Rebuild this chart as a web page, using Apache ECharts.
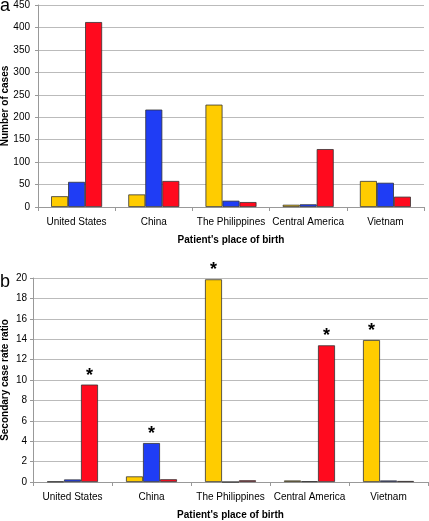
<!DOCTYPE html>
<html>
<head>
<meta charset="utf-8">
<script src="https://cdn.jsdelivr.net/npm/echarts@6/dist/echarts.min.js"></script>
<style>
html,body{margin:0;padding:0;background:#fff;}
#c{width:429px;height:521px;}
</style>
</head>
<body>
<div id="c"></div>
<script>
var categories = ['United States', 'China', 'The Philippines', 'Central America', 'Vietnam'];
// Panel a: number of cases
var casesYellow = [24, 28, 228, 5, 58];
var casesBlue = [56, 217, 14, 6, 54];
var casesRed = [412, 58, 11, 129, 23];
// Panel b: secondary case rate ratio
var ratioYellow = [0.05, 0.55, 19.87, 0.15, 13.92];
var ratioBlue = [0.25, 3.82, 0, 0.08, 0.15];
var ratioRed = [9.55, 0.27, 0.17, 13.4, 0.1];
// which bars carry an asterisk in panel b (series index per category)
var starSeries = [2, 1, 0, 2, 0];
var casesTicks = [0, 450, 50];
var ratioTicks = [0, 20, 2];

var font = 'Liberation Sans, Arial, sans-serif';
var colors = ['#FFCC00', '#1F3DF5', '#FF0A1E'];

function starred(arr, sIdx) {
  return arr.map(function (v, i) {
    if (starSeries[i] === sIdx) {
      return { value: v, label: { show: true } };
    }
    return v;
  });
}

function xAxisCfg(gi) {
  return {
    type: 'category', gridIndex: gi, data: categories,
    axisLine: { lineStyle: { color: '#999', width: 1 } },
    axisTick: { show: true, length: 4, lineStyle: { color: '#999' } },
    axisLabel: { color: '#000', fontSize: 10, fontFamily: font, margin: 10, interval: 0 },
    name: "Patient's place of birth", nameLocation: 'middle', nameGap: 28, nameMoveOverlap: false,
    nameTextStyle: { color: '#000', fontSize: 10, fontWeight: 'bold', fontFamily: font }
  };
}
function yAxisCfg(gi, ticks, name, margin, gap) {
  return {
    type: 'value', gridIndex: gi, min: ticks[0], max: ticks[1], interval: ticks[2],
    axisLine: { show: true, lineStyle: { color: '#999' } },
    axisTick: { show: true, length: 3, lineStyle: { color: '#999' } },
    splitLine: { lineStyle: { color: '#bbb', width: 1 } },
    axisLabel: { color: '#000', fontSize: 10, fontFamily: font, margin: margin },
    name: name, nameLocation: 'middle', nameGap: gap, nameMoveOverlap: false,
    nameTextStyle: { color: '#000', fontSize: 10, fontWeight: 'bold', fontFamily: font }
  };
}
function barSeries(name, xi, data, color) {
  return {
    type: 'bar', name: name, xAxisIndex: xi, yAxisIndex: xi, data: data,
    barWidth: 17, barGap: '0%',
    itemStyle: { color: color, borderColor: '#333', borderWidth: 0.8 },
    label: { show: false, position: 'top', formatter: '*', color: '#000',
             fontSize: 18, fontWeight: 'bold', fontFamily: font, distance: 0 },
    animation: false
  };
}

var chart = echarts.init(document.getElementById('c'), null, { renderer: 'canvas' });
chart.setOption({
  backgroundColor: '#fff',
  animation: false,
  title: [
    { text: 'a', left: 0, top: -3, padding: 0, textStyle: { fontSize: 18, fontWeight: 'normal', color: '#000', fontFamily: font } },
    { text: 'b', left: 0, top: 273, padding: 0, textStyle: { fontSize: 18, fontWeight: 'normal', color: '#000', fontFamily: font } }
  ],
  grid: [
    { left: 38, right: 5, top: 5, height: 202, containLabel: false, outerBoundsMode: 'none' },
    { left: 33, right: 1, top: 278, height: 204, containLabel: false, outerBoundsMode: 'none' }
  ],
  xAxis: [xAxisCfg(0), xAxisCfg(1)],
  yAxis: [
    yAxisCfg(0, casesTicks, 'Number of cases', 8, 28),
    yAxisCfg(1, ratioTicks, 'Secondary case rate ratio', 6, 23)
  ],
  series: [
    barSeries('Yellow', 0, casesYellow, colors[0]),
    barSeries('Blue', 0, casesBlue, colors[1]),
    barSeries('Red', 0, casesRed, colors[2]),
    barSeries('Yellow', 1, starred(ratioYellow, 0), colors[0]),
    barSeries('Blue', 1, starred(ratioBlue, 1), colors[1]),
    barSeries('Red', 1, starred(ratioRed, 2), colors[2])
  ]
});
</script>
</body>
</html>
